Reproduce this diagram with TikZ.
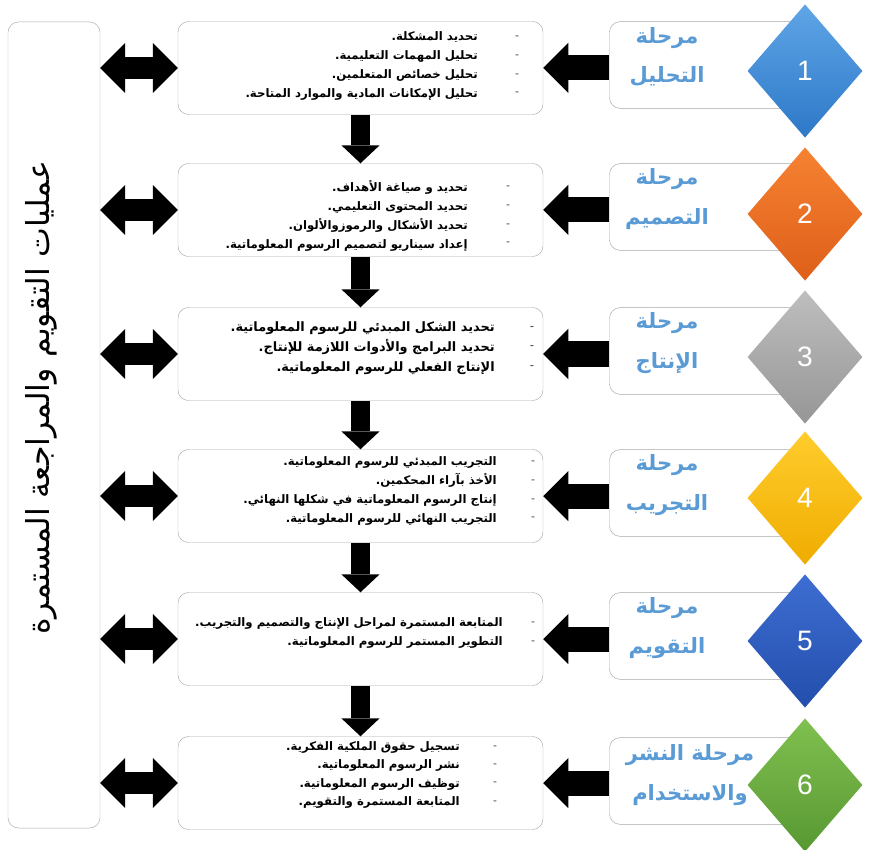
\documentclass[tikz,border=0pt]{standalone}
\usepackage{fontspec}
\setmainfont{Liberation Sans}
\newfontfamily\arabicfont[Script=Arabic]{DejaVu Sans}
\usetikzlibrary{shapes.geometric,arrows.meta}
\TeXXeTstate=1
\newcommand{\artxt}[1]{{\arabicfont\beginR #1\endR}}
\definecolor{stagetext}{HTML}{5B9BD5}
\definecolor{boxline}{HTML}{A6A6A6}
\tikzstyle{node:eval}=[draw=boxline,rounded corners=9pt,minimum width=2.76cm,minimum height=24.18cm,inner sep=0pt]
\tikzstyle{node:list}=[draw=boxline,rounded corners=9pt,minimum width=10.95cm,minimum height=2.79cm,inner sep=0pt]
\tikzstyle{node:items}=[anchor=east,align=right,inner sep=0pt,font=\fontsize{10}{16}\selectfont\bfseries]
\tikzstyle{node:dashes}=[align=center,inner sep=0pt,text=black!70,font=\fontsize{10}{16}\selectfont]
\tikzstyle{node:stage}=[draw=boxline,fill=white,rounded corners=9pt,minimum width=5.85cm,minimum height=2.6cm,inner sep=0pt]
\tikzstyle{node:stagetext}=[align=center,text=stagetext,inner sep=0pt,font=\fontsize{18}{34}\selectfont\bfseries]
\tikzstyle{node:num}=[diamond,inner sep=0pt,minimum width=3.45cm,minimum height=4cm,text=white,font=\fontsize{24}{24}\selectfont]
\tikzstyle{draw:down}=[line width=0.58cm,-{Triangle[length=0.54cm,width=1.15cm,line width=0pt]}]
\tikzstyle{draw:left}=[line width=0.75cm,-{Triangle[length=0.75cm,width=1.5cm,line width=0pt]}]
\tikzstyle{draw:double}=[line width=0.66cm,{Triangle[length=0.75cm,width=1.5cm,line width=0pt]}-{Triangle[length=0.75cm,width=1.5cm,line width=0pt]}]

\begin{document}
\begin{tikzpicture}[x=0.03cm,y=-0.03cm]
        \useasboundingbox (0,0) rectangle (869,850);

        % Evaluation column
        \node[node:eval] (evalbox) at (54,425) {};
        \node[rotate=90,inner sep=0pt,font=\fontsize{27}{27}\selectfont] (evaltxt) at (41,398)
            {\artxt{عمليات التقويم والمراجعة المستمرة}};

        % Task boxes
        \node[node:list] (list1) at (360.5,68) {};
        \node[node:list] (list2) at (360.5,210) {};
        \node[node:list] (list3) at (360.5,354) {};
        \node[node:list] (list4) at (360.5,496) {};
        \node[node:list] (list5) at (360.5,639) {};
        \node[node:list] (list6) at (360.5,783) {};

        % Task items
        \node[node:items] (items1) at (478,66) {\artxt{تحديد المشكلة.}\\\artxt{تحليل المهمات التعليمية.}\\\artxt{تحليل خصائص المتعلمين.}\\\artxt{تحليل الإمكانات المادية والموارد المتاحة.}};
        \node[node:dashes] (dash1) at (517,66) {-\\-\\-\\-};
        \node[node:items] (items2) at (468,216) {\artxt{تحديد و صياغة الأهداف.}\\\artxt{تحديد المحتوى التعليمي.}\\\artxt{تحديد الأشكال والرموزوالألوان.}\\\artxt{إعداد سيناريو لتصميم الرسوم المعلوماتية.}};
        \node[node:dashes] (dash2) at (508,216) {-\\-\\-\\-};
        \node[node:items,font=\fontsize{11}{17}\selectfont\bfseries] (items3) at (495,348) {\artxt{تحديد الشكل المبدئي للرسوم المعلوماتية.}\\\artxt{تحديد البرامج والأدوات اللازمة للإنتاج.}\\\artxt{الإنتاج الفعلي للرسوم المعلوماتية.}};
        \node[node:dashes,font=\fontsize{11}{17}\selectfont] (dash3) at (532,348) {-\\-\\-};
        \node[node:items] (items4) at (497,491) {\artxt{التجريب المبدئي للرسوم المعلوماتية.}\\\artxt{الأخذ بآراء المحكمين.}\\\artxt{إنتاج الرسوم المعلوماتية في شكلها النهائي.}\\\artxt{التجريب النهائي للرسوم المعلوماتية.}};
        \node[node:dashes] (dash4) at (533,491) {-\\-\\-\\-};
        \node[node:items] (items5) at (503,633) {\artxt{المتابعة المستمرة لمراحل الإنتاج والتصميم والتجريب.}\\\artxt{التطوير المستمر للرسوم المعلوماتية.}};
        \node[node:dashes] (dash5) at (533,633) {-\\-};
        \node[node:items,font=\fontsize{10}{15.5}\selectfont\bfseries] (items6) at (460,775) {\artxt{تسجيل حقوق الملكية الفكرية.}\\\artxt{نشر الرسوم المعلوماتية.}\\\artxt{توظيف الرسوم المعلوماتية.}\\\artxt{المتابعة المستمرة والتقويم.}};
        \node[node:dashes,font=\fontsize{10}{15.5}\selectfont] (dash6) at (495,775) {-\\-\\-\\-};

        % Stage boxes
        \node[node:stage] (stage1) at (707,65) {};
        \node[node:stage] (stage2) at (707,207) {};
        \node[node:stage] (stage3) at (707,351) {};
        \node[node:stage] (stage4) at (707,493) {};
        \node[node:stage] (stage5) at (707,636) {};
        \node[node:stage] (stage6) at (707,781) {};

        % Stage names
        \node[node:stagetext] (name1) at (667,57) {\artxt{مرحلة}\\\artxt{التحليل}};
        \node[node:stagetext] (name2) at (667,199) {\artxt{مرحلة}\\\artxt{التصميم}};
        \node[node:stagetext] (name3) at (667,343) {\artxt{مرحلة}\\\artxt{الإنتاج}};
        \node[node:stagetext] (name4) at (667,485) {\artxt{مرحلة}\\\artxt{التجريب}};
        \node[node:stagetext] (name5) at (667,628) {\artxt{مرحلة}\\\artxt{التقويم}};
        \node[node:stagetext] (name6) at (690,775) {\artxt{مرحلة النشر}\\\artxt{والاستخدام}};

        % Numbered diamonds
        \node[node:num,top color={rgb,255:red,95;green,165;blue,230},bottom color={rgb,255:red,45;green,120;blue,200}] (num1) at (805,71) {1};
        \node[node:num,top color={rgb,255:red,246;green,130;blue,50},bottom color={rgb,255:red,222;green,95;blue,25}] (num2) at (805,214) {2};
        \node[node:num,top color={rgb,255:red,190;green,190;blue,190},bottom color={rgb,255:red,150;green,150;blue,150}] (num3) at (805,357) {3};
        \node[node:num,top color={rgb,255:red,255;green,205;blue,45},bottom color={rgb,255:red,240;green,172;blue,0}] (num4) at (805,498) {4};
        \node[node:num,top color={rgb,255:red,62;green,110;blue,210},bottom color={rgb,255:red,35;green,78;blue,172}] (num5) at (805,641) {5};
        \node[node:num,top color={rgb,255:red,128;green,192;blue,80},bottom color={rgb,255:red,88;green,152;blue,50}] (num6) at (805,785) {6};

        % draw:down between task boxes
        \draw[draw:down] (list1) -- (list2);
        \draw[draw:down] (list2) -- (list3);
        \draw[draw:down] (list3) -- (list4);
        \draw[draw:down] (list4) -- (list5);
        \draw[draw:down] (list5) -- (list6);

        % draw:left from stages to task boxes
        \draw[draw:left] (list1.east -| stage1.west) -- (list1.east);
        \draw[draw:left] (list2.east -| stage2.west) -- (list2.east);
        \draw[draw:left] (list3.east -| stage3.west) -- (list3.east);
        \draw[draw:left] (list4.east -| stage4.west) -- (list4.east);
        \draw[draw:left] (list5.east -| stage5.west) -- (list5.east);
        \draw[draw:left] (list6.east -| stage6.west) -- (list6.east);

        % draw:double between evaluation and task boxes
        \draw[draw:double] (evalbox.east |- list1.west) -- (list1.west);
        \draw[draw:double] (evalbox.east |- list2.west) -- (list2.west);
        \draw[draw:double] (evalbox.east |- list3.west) -- (list3.west);
        \draw[draw:double] (evalbox.east |- list4.west) -- (list4.west);
        \draw[draw:double] (evalbox.east |- list5.west) -- (list5.west);
        \draw[draw:double] (evalbox.east |- list6.west) -- (list6.west);

    \end{tikzpicture}
\end{document}
